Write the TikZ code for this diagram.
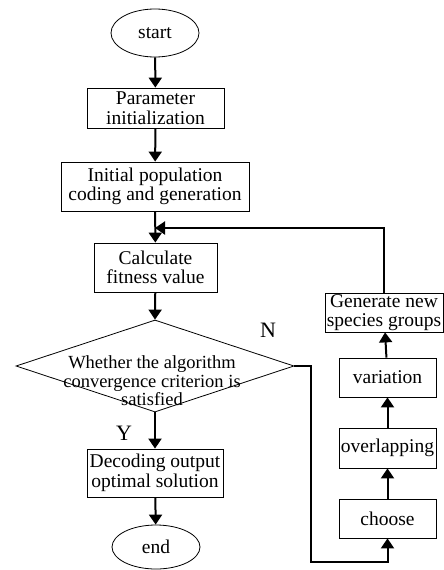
\documentclass[tikz,border=0pt]{standalone}
\usepackage{fontspec}
\setmainfont{Liberation Serif}
\usetikzlibrary{shapes.geometric,arrows.meta}

\tikzset{
  box/.style={draw, line width=0.8pt, inner sep=0pt, align=center, font=\fontsize{19.5}{19.5}\selectfont},
  oval/.style={box, ellipse},
  flow/.style={line width=2pt, -{Triangle[length=10pt,width=13pt]}},
  yn/.style={font=\fontsize{22}{22}\selectfont},
}

\begin{document}
\begin{tikzpicture}[x=1pt,y=-1pt]
\useasboundingbox (0,0) rectangle (444,570);

\node (start) at (155,33) [oval, minimum width=88pt, minimum height=48pt] {start};
\node (param) at (155.5,108) [box, minimum width=137pt, minimum height=40pt] {Parameter\\initialization};
\node (init) at (155,186.5) [box, minimum width=188pt, minimum height=49pt] {Initial population\\coding and generation};
\node (fit) at (155.5,267.5) [box, minimum width=123pt, minimum height=49pt] {Calculate\\fitness value};
\node (judge) at (155,366) [draw, line width=0.8pt, diamond, aspect=3, inner sep=0pt, minimum width=278pt, minimum height=92pt] {};
\node (judgetext) at (152,381) [align=center, font=\fontsize{18.5}{18.5}\selectfont] {Whether the algorithm\\convergence criterion is\\satisfied};
\node (decode) at (155,473) [box, minimum width=136pt, minimum height=48pt] {Decoding output\\optimal solution};
\node (stop) at (156,547) [oval, minimum width=88pt, minimum height=44pt] {end};

\node (gen) at (384,312.5) [box, minimum width=118pt, minimum height=39pt] {Generate new\\species groups};
\node (var) at (387.5,377.5) [box, minimum width=97pt, minimum height=39pt] {variation};
\node (over) at (387.5,448) [box, minimum width=97pt, minimum height=40pt] {overlapping};
\node (choose) at (387.5,518.5) [box, minimum width=97pt, minimum height=39pt] {choose};

\node (n) at (268,330) [yn] {N};
\node (y) at (124,433) [yn] {Y};

\coordinate (back) at (155,228);
\coordinate (turn) at (311,562);

\draw [flow] (start) -- (param);
\draw [flow] (param) -- (init);
\draw [flow] (init) -- (fit);
\draw [flow] (fit) -- (judge.north);
\draw [flow] (judge.south) -- (decode);
\draw [flow] (decode) -- (stop);
\draw [flow] (judge.east) -| (turn) -| (choose.south);
\draw [flow] (choose) -- (over);
\draw [flow] (over) -- (var);
\draw [flow] (var) -- (gen);
\draw [flow] (gen.north) |- (back);
\end{tikzpicture}
\end{document}
